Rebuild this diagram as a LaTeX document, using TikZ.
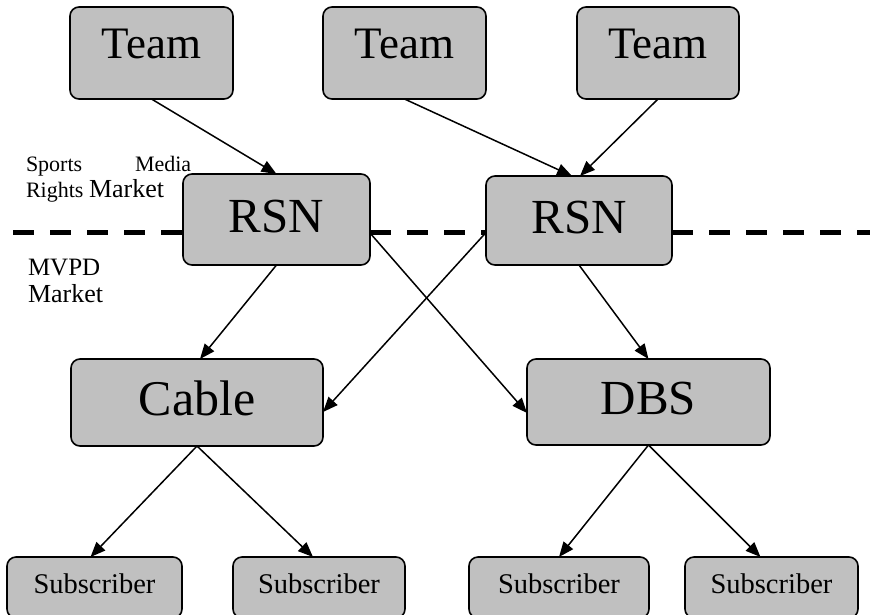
\documentclass[tikz,border=0pt]{standalone}
\usepackage{fontspec}
\setmainfont{Liberation Serif}
\usetikzlibrary{arrows.meta}
\definecolor{boxgray}{RGB}{192,192,192}
\tikzset{
  box/.style={draw=black, fill=boxgray, line width=1.6pt, rounded corners=9pt,
    inner sep=0pt, outer sep=0pt, anchor=center},
  teambox/.style={box, minimum width=163pt, minimum height=92pt,
    font=\fontsize{45}{48}\selectfont, text height=30pt, text depth=20pt},
  midbox/.style={box, font=\fontsize{49}{52}\selectfont, text height=35pt, text depth=10pt},
  subbox/.style={box, minimum height=61pt,
    font=\fontsize{28.5}{30}\selectfont, text height=20pt, text depth=9pt},
  conn/.style={line width=1.5pt, -{Triangle[length=15pt,width=12pt]}},
  divider/.style={line width=5pt, dash pattern=on 21pt off 16pt},
  lab/.style={anchor=base west, inner sep=0pt, outer sep=0pt},
}
\begin{document}
\begin{tikzpicture}[x=1pt,y=-1pt]
\useasboundingbox (0,0) rectangle (870,614);
\clip (0,0) rectangle (870,614);
% nodes
\node[teambox] (team1) at (151.5,53) {Team};
\node[teambox] (team2) at (404.5,53) {Team};
\node[teambox, minimum width=162pt] (team3) at (658,53) {Team};
\node[midbox, minimum width=187pt, minimum height=91pt] (rsn1) at (276.5,219.5) {RSN};
\node[midbox, minimum width=186pt, minimum height=89pt] (rsn2) at (579,220.5) {RSN};
\node[midbox, minimum width=252pt, minimum height=87pt, font=\fontsize{50}{52}\selectfont] (cable) at (197,402.5) {Cable};
\node[midbox, minimum width=243pt, minimum height=86pt] (dbs) at (648.5,402) {DBS};
\node[subbox, minimum width=175pt] (sub1) at (94.5,587.5) {Subscriber};
\node[subbox, minimum width=172pt] (sub2) at (319,587.5) {Subscriber};
\node[subbox, minimum width=180pt] (sub3) at (559,587.5) {Subscriber};
\node[subbox, minimum width=173pt] (sub4) at (771.5,587.5) {Subscriber};
% labels
\node[lab, font=\fontsize{22}{24}\selectfont] (sports) at (26,171) {Sports};
\node[lab, font=\fontsize{22}{24}\selectfont] (media) at (135,171) {Media};
\node[lab, font=\fontsize{22}{24}\selectfont] (rights) at (26,197) {Rights};
\node[lab, font=\fontsize{26}{28}\selectfont] (market1) at (89,197) {Market};
\node[lab, font=\fontsize{25}{27}\selectfont] (mvpd) at (28,275) {MVPD};
\node[lab, font=\fontsize{26}{28}\selectfont] (market2) at (28,302) {Market};
% dashed divider
\coordinate (dl) at (13,232);
\coordinate (dr) at (870,232);
\draw[divider] (dl) -- (dl -| rsn1.west);
\draw[divider] (dl -| rsn1.east) -- (dl -| rsn2.west);
\draw[divider] (dl -| rsn2.east) -- (dr);
% connectors
\draw[conn] (team1.south) -- (rsn1.north);
\draw[conn] (team2.south) -- ([xshift=-7pt]rsn2.north);
\draw[conn] (team3.south) -- ([xshift=1pt]rsn2.north);
\draw[conn] (rsn1.south) -- ([xshift=3pt]cable.north);
\draw[conn] ([yshift=-13.5pt]rsn1.east) -- ([yshift=-11pt]dbs.west);
\draw[conn] ([yshift=-12pt]rsn2.west) -- ([yshift=-9.5pt]cable.east);
\draw[conn] (rsn2.south) -- (dbs.north);
\draw[conn] (cable.south) -- ([xshift=-4pt]sub1.north);
\draw[conn] (cable.south) -- ([xshift=-6pt]sub2.north);
\draw[conn] (dbs.south) -- (sub3.north);
\draw[conn] (dbs.south) -- ([xshift=-11pt]sub4.north);
\end{tikzpicture}
\end{document}
